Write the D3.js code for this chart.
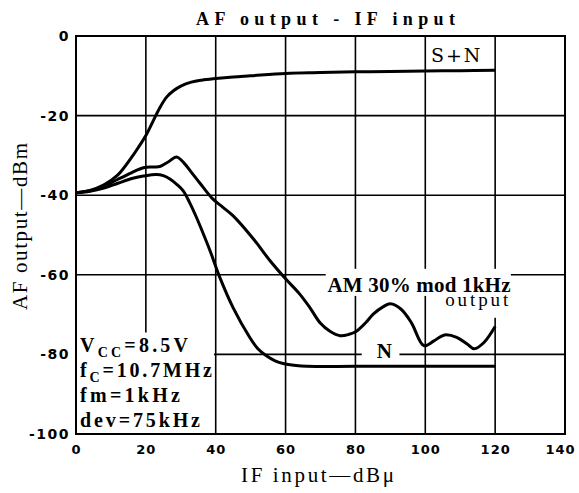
<!DOCTYPE html>
<head>
  <title>AF output - IF input</title>
  <style>
    body { margin: 0; background: #fff; }
    .grid { stroke: #000; stroke-width: 1.6; }
    .curve { fill: none; stroke: #000; stroke-width: 3; stroke-linejoin: round; }
    .tick text { font-family: "DejaVu Sans"; font-weight: bold; fill: #000; }
  </style>
</head>
<body>
  <script src="https://cdn.jsdelivr.net/npm/d3@7"></script>
  <script>
    // values
    var xTicks = [0, 20, 40, 60, 80, 100, 120, 140];
    var yTicks = [0, -20, -40, -60, -80, -100];
    var xGrid = [20, 40, 60, 80, 100, 120];
    var yGrid = [-20, -40, -60, -80];

    // S+N output
    var snIn  = [0, 4, 8, 12, 16, 18, 20, 22, 24, 26, 28, 30, 33, 36, 40, 45, 50, 60, 70, 80, 90, 100, 110, 120];
    var snOut = [-39.4, -38.8, -37.4, -34.9, -30.4, -27.8, -25.0, -21.5, -18.0, -15.3, -13.7, -12.6, -11.6, -11.1, -10.7, -10.3, -10.0, -9.4, -9.2, -9.0, -8.9, -8.8, -8.7, -8.6];

    // AM 30% mod 1kHz output
    var amIn  = [0, 4, 8, 12, 16, 19.3, 22, 24, 26.5, 28.8, 31, 33, 35.5, 39, 42, 45, 50.8, 55.5, 60, 64, 67, 70, 72.7, 75.6, 78, 80.4, 83, 85.1, 88, 90, 93, 96, 99.6, 102.5, 105.5, 109, 112, 114, 116.8, 120];
    var amOut = [-39.4, -38.9, -37.8, -36.0, -34.3, -33.1, -32.9, -32.8, -31.6, -30.4, -32.0, -34.2, -37.0, -40.8, -43.0, -45.2, -51.0, -56.4, -61.0, -64.8, -68.3, -72.2, -74.2, -75.3, -75.0, -74.1, -72.0, -69.9, -68.0, -67.3, -68.6, -72.0, -77.8, -76.6, -75.1, -75.7, -77.4, -78.6, -77.0, -73.0];

    // N output
    var nIn  = [0, 4, 8, 12, 16, 19.3, 23, 25, 27, 29, 30.7, 32.5, 34.5, 36.5, 38.4, 41.2, 45, 49.8, 52, 54.6, 57, 59.3, 63, 66, 80, 100, 120];
    var nOut = [-39.4, -39.0, -38.2, -37.0, -35.8, -35.2, -34.8, -35.1, -36.0, -37.4, -38.9, -41.8, -45.6, -49.8, -54.0, -60.7, -68.3, -75.8, -78.5, -80.4, -81.6, -82.3, -82.8, -83.0, -83.0, -83.0, -83.0];

    var conditions = ["=8.5V", "=10.7MHz", "=1kHz", "=75kHz"];

    var margin = {top: 36, right: 14, bottom: 59, left: 76},
        width = 579 - margin.left - margin.right,
        height = 493 - margin.top - margin.bottom;

    var x = d3.scaleLinear().domain([0, 140]).range([0, width]);
    var y = d3.scaleLinear().domain([-100, 0]).range([height, 0]);

    var svg = d3.select("body").append("svg")
        .attr("width", 579)
        .attr("height", 493)
      .append("g")
        .attr("transform", "translate(" + margin.left + "," + margin.top + ")");

    // grid
    svg.selectAll(".vgrid").data(xGrid).enter().append("line")
        .attr("class", "grid")
        .attr("x1", function(d) { return x(d); }).attr("x2", function(d) { return x(d); })
        .attr("y1", 0).attr("y2", height);
    svg.selectAll(".hgrid").data(yGrid).enter().append("line")
        .attr("class", "grid")
        .attr("x1", 0).attr("x2", width)
        .attr("y1", function(d) { return y(d); }).attr("y2", function(d) { return y(d); });

    // white patches behind the labels
    function patch(x0, x1, y0, y1) {
      svg.append("rect")
          .attr("x", x(x0)).attr("y", y(y0))
          .attr("width", x(x1) - x(x0)).attr("height", y(y1) - y(y0))
          .attr("fill", "#fff");
    }
    patch(0.3, 39.5, -74.5, -100);
    patch(71.5, 124.5, -58.5, -65.3);
    patch(104, 124.5, -65.3, -70.8);
    patch(81.8, 92.6, -77.2, -82.0);

    // frame
    svg.append("rect")
        .attr("width", width).attr("height", height)
        .attr("fill", "none").attr("stroke", "#000").attr("stroke-width", 2);

    // axes
    svg.append("g")
        .attr("transform", "translate(0," + height + ")")
        .call(d3.axisBottom(x).tickValues(xTicks).tickSize(0).tickPadding(11)
              .tickFormat(function(d) { return String(d); }))
        .call(function(g) {
          g.select(".domain").remove();
          g.selectAll("text").style("font-size", "13px").style("letter-spacing", "1px")
            .attr("dx", function(d) { return d === 140 ? -5 : 0; });
        });

    svg.append("g")
        .call(d3.axisLeft(y).tickValues(yTicks).tickSize(0).tickPadding(6)
              .tickFormat(function(d) { return String(d); }))
        .call(function(g) {
          g.select(".domain").remove();
          g.selectAll("text").style("font-size", "14px").style("letter-spacing", "1.5px");
        });

    // curves
    var line = d3.line()
        .x(function(d) { return x(d[0]); })
        .y(function(d) { return y(d[1]); })
        .curve(d3.curveCatmullRom.alpha(0.5));

    [[snIn, snOut], [amIn, amOut], [nIn, nOut]].forEach(function(s) {
      svg.append("path")
          .datum(d3.zip(s[0], s[1]))
          .attr("class", "curve")
          .attr("d", line);
    });

    // labels
    svg.append("text")
        .attr("x", x(109)).attr("y", y(-6.6))
        .attr("text-anchor", "middle")
        .style("font-family", "DejaVu Serif").style("font-size", "19px")
        .style("letter-spacing", "2px")
        .text("S+N");

    svg.append("text")
        .attr("x", x(72)).attr("y", y(-64.4))
        .attr("textLength", 183).attr("lengthAdjust", "spacing")
        .style("font-family", "Liberation Serif").style("font-weight", "bold").style("font-size", "21px")
        .text("AM 30% mod 1kHz");

    svg.append("text")
        .attr("x", x(105.7)).attr("y", y(-67.9))
        .attr("textLength", 63).attr("lengthAdjust", "spacing")
        .style("font-family", "Liberation Serif").style("font-size", "19px")
        .text("output");

    svg.append("text")
        .attr("x", x(88.3)).attr("y", y(-80.8))
        .attr("text-anchor", "middle")
        .style("font-family", "Liberation Serif").style("font-weight", "bold").style("font-size", "21px")
        .text("N");

    // test conditions
    var names = [["V", "CC"], ["f", "C"], ["fm", ""], ["dev", ""]];
    var lens = [108, 132, 100, 120];
    names.forEach(function(n, i) {
      var t = svg.append("text")
          .attr("x", 4).attr("y", y(-79.5) + i * 25)
          .attr("textLength", lens[i]).attr("lengthAdjust", "spacing")
          .style("font-family", "Liberation Serif").style("font-weight", "bold").style("font-size", "20px");
      t.append("tspan").text(n[0]);
      if (n[1]) {
        t.append("tspan").attr("dy", 5).style("font-size", "14px").text(n[1]);
        t.append("tspan").attr("dy", -5).text(conditions[i]);
      } else {
        t.append("tspan").text(conditions[i]);
      }
    });

    // titles
    svg.append("text")
        .attr("x", 196 - margin.left).attr("y", 25 - margin.top)
        .attr("textLength", 259).attr("lengthAdjust", "spacing")
        .style("font-family", "Liberation Serif").style("font-weight", "bold").style("font-size", "18px")
        .text("AF output - IF input");

    svg.append("text")
        .attr("x", 241 - margin.left).attr("y", height + 48)
        .attr("textLength", 153).attr("lengthAdjust", "spacing")
        .style("font-family", "Liberation Serif").style("font-size", "21px")
        .text("IF input\u2014dB\u03bc");

    svg.append("text")
        .attr("transform", "translate(" + (27 - margin.left) + "," + (310 - margin.top) + ") rotate(-90)")
        .attr("textLength", 167).attr("lengthAdjust", "spacing")
        .style("font-family", "Liberation Serif").style("font-size", "21px")
        .text("AF output\u2014dBm");
  </script>
</body>
